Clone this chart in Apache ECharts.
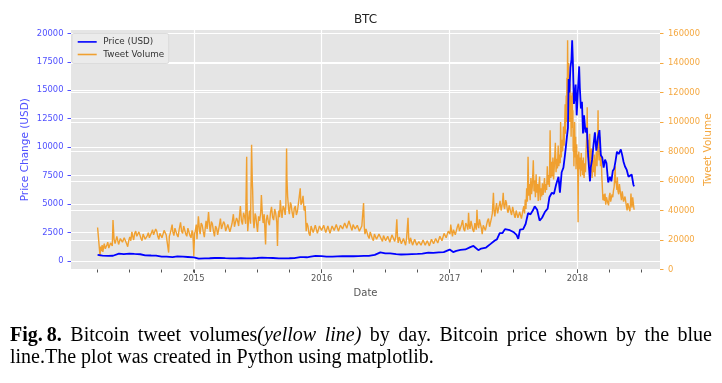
<!DOCTYPE html>
<html><head><meta charset="utf-8">
<script src="https://cdn.jsdelivr.net/npm/echarts@6/dist/echarts.min.js"></script>
<style>html,body{margin:0;padding:0;background:#fff}#c{width:722px;height:383px}</style>
</head><body><div id="c"></div><script>
// ---------- data ----------
const chartTitle = 'BTC';
const xTitle = 'Date';
const leftTitle = 'Price Change (USD)';
const rightTitle = 'Tweet Volume';
const seriesNames = ['Price (USD)', 'Tweet Volume'];
const xRange = ['2014-01-15', '2018-08-25'];
const yearTicks = [2015, 2016, 2017, 2018];
const quarterTickRange = ['2014-04-01', '2018-07-01'];
const priceRange = [-750, 20300];
const priceTicks = [0, 20000, 2500];
const volumeRange = [0, 162400];
const volumeTicks = [0, 160000, 20000];

const priceSeries = [
['2014-04-01',530],['2014-04-15',470],['2014-05-01',450],['2014-05-15',460],['2014-06-01',640],['2014-06-15',600],['2014-07-01',650],['2014-07-15',620],['2014-08-01',590],['2014-08-15',500],['2014-09-01',480],['2014-09-15',470],['2014-10-01',380],['2014-10-15',390],['2014-11-01',330],['2014-11-15',400],['2014-12-01',380],['2014-12-15',350],
['2015-01-01',315],['2015-01-15',210],['2015-02-01',230],['2015-02-15',240],['2015-03-01',260],['2015-03-15',280],['2015-04-01',245],['2015-04-15',225],['2015-05-01',235],['2015-05-15',240],['2015-06-01',225],['2015-06-15',235],['2015-07-01',260],['2015-07-15',290],['2015-08-01',280],['2015-08-15',260],['2015-09-01',230],['2015-09-15',230],['2015-10-01',238],['2015-10-15',255],['2015-11-01',330],['2015-11-04',490],['2015-11-10',330],['2015-11-20',325],['2015-12-01',380],['2015-12-15',440],
['2016-01-01',430],['2016-01-15',390],['2016-02-01',375],['2016-02-15',405],['2016-03-01',430],['2016-03-15',415],['2016-04-01',415],['2016-04-15',425],['2016-05-01',450],['2016-05-15',455],['2016-06-01',535],['2016-06-17',760],['2016-07-01',670],['2016-07-15',665],['2016-08-01',600],['2016-08-15',570],['2016-09-01',575],['2016-09-15',610],['2016-10-01',615],['2016-10-15',640],['2016-11-01',730],['2016-11-15',710],['2016-12-01',750],['2016-12-15',780],
['2017-01-01',1000],['2017-01-04',1130],['2017-01-11',780],['2017-01-20',890],['2017-02-01',980],['2017-02-15',1010],['2017-03-01',1220],['2017-03-10',1320],['2017-03-24',950],['2017-04-01',1090],['2017-04-15',1180],['2017-04-28',1500],['2017-05-10',1800],['2017-05-16',1900],['2017-05-24',2450],['2017-06-01',2450],['2017-06-08',2800],['2017-06-12',2950],['2017-06-22',2700],['2017-07-02',2550],['2017-07-11',2300],['2017-07-16',1950],['2017-07-21',2750],['2017-07-30',2800],['2017-08-06',3250],['2017-08-13',4200],['2017-08-20',4100],['2017-08-27',4450],['2017-09-01',4800],['2017-09-08',4500],['2017-09-15',3550],['2017-09-22',3800],['2017-09-30',4300],['2017-10-08',4600],['2017-10-13',5600],['2017-10-20',6000],['2017-10-26',5900],['2017-11-01',6700],['2017-11-08',7400],['2017-11-12',6000],['2017-11-17',7800],['2017-11-22',8200],['2017-11-26',9200],['2017-11-29',10000],['2017-12-02',10900],['2017-12-05',11700],['2017-12-07',16000],['2017-12-09',14800],['2017-12-12',17000],['2017-12-15',17700],['2017-12-17',19400],['2017-12-19',17600],['2017-12-22',13800],['2017-12-24',14300],['2017-12-27',15500],['2017-12-30',12800],
['2018-01-02',14700],['2018-01-06',17100],['2018-01-08',15200],['2018-01-11',13400],['2018-01-14',14000],['2018-01-17',11200],['2018-01-20',12800],['2018-01-24',11300],['2018-01-28',11700],['2018-02-01',9100],['2018-02-06',7000],['2018-02-08',8200],['2018-02-12',8900],['2018-02-16',10200],['2018-02-20',11300],['2018-02-24',9700],['2018-03-01',10900],['2018-03-05',11500],['2018-03-09',9300],['2018-03-13',9100],['2018-03-17',8200],['2018-03-21',8900],['2018-03-25',8600],['2018-03-30',6900],['2018-04-04',7400],['2018-04-08',7000],['2018-04-12',7900],['2018-04-16',8100],['2018-04-20',8800],['2018-04-24',9600],['2018-04-29',9400],['2018-05-05',9800],['2018-05-09',9300],['2018-05-13',8700],['2018-05-17',8300],['2018-05-22',8000],['2018-05-27',7400],['2018-06-01',7500],['2018-06-05',7600],['2018-06-07',7650],['2018-06-10',6700],['2018-06-12',6550]
];

const tweetSeries = [
['2014-04-01',28500],['2014-04-05',28000],['2014-04-08',9000],['2014-04-10',15500],['2014-04-12',12500],['2014-04-14',16500],['2014-04-16',12000],['2014-04-18',15000],['2014-04-20',17500],['2014-04-23',14000],['2014-04-25',13500],['2014-04-28',17000],['2014-04-30',18500],['2014-05-03',14500],['2014-05-05',15000],['2014-05-08',18000],['2014-05-10',19000],['2014-05-13',16000],['2014-05-15',33500],['2014-05-18',20500],['2014-05-21',17500],['2014-05-23',16500],['2014-05-26',22500],['2014-05-28',21500],['2014-05-31',17000],['2014-06-02',18000],['2014-06-05',21000],['2014-06-08',22000],['2014-06-11',18500],['2014-06-13',17500],['2014-06-16',21500],['2014-06-19',20500],['2014-06-23',17500],['2014-06-26',15500],['2014-06-29',19500],['2014-07-02',22000],['2014-07-05',19500],['2014-07-08',25500],['2014-07-11',22000],['2014-07-13',20000],['2014-07-16',24500],['2014-07-19',26000],['2014-07-22',22500],['2014-07-25',21500],['2014-07-28',25500],['2014-07-31',24500],['2014-08-03',21000],['2014-08-06',19500],['2014-08-09',24000],['2014-08-12',23500],['2014-08-15',20500],['2014-08-18',20000],['2014-08-21',23000],['2014-08-24',25000],['2014-08-27',21500],['2014-08-30',21000],['2014-09-02',25000],['2014-09-05',27000],['2014-09-08',23500],['2014-09-11',22500],['2014-09-14',27500],['2014-09-17',26000],['2014-09-20',22500],['2014-09-23',20500],['2014-09-26',24500],['2014-09-29',25500],['2014-10-02',21500],['2014-10-05',22000],['2014-10-08',26500],['2014-10-11',27500],['2014-10-14',23500],['2014-10-17',23000],['2014-10-21',11500],['2014-10-23',22500],['2014-10-25',24000],['2014-10-28',27000],['2014-10-31',30500],['2014-11-02',25500],['2014-11-05',23000],['2014-11-08',28000],['2014-11-11',27500],['2014-11-14',23500],['2014-11-17',22000],['2014-11-20',27000],['2014-11-24',32000],['2014-11-27',26000],['2014-11-30',24500],['2014-12-03',29500],['2014-12-06',28500],['2014-12-09',24000],['2014-12-12',22500],['2014-12-15',28000],['2014-12-18',27000],['2014-12-21',23000],['2014-12-24',21500],['2014-12-27',26500],['2014-12-29',25000],
['2015-01-01',9000],['2015-01-03',24000],['2015-01-05',26000],['2015-01-08',30500],['2015-01-10',20500],['2015-01-14',36000],['2015-01-17',27000],['2015-01-19',24000],['2015-01-22',31500],['2015-01-25',30000],['2015-01-28',25500],['2015-01-31',22000],['2015-02-03',29000],['2015-02-05',33000],['2015-02-08',27500],['2015-02-12',39000],['2015-02-15',29000],['2015-02-17',25500],['2015-02-20',32500],['2015-02-23',31000],['2015-02-26',26000],['2015-03-01',22500],['2015-03-04',29500],['2015-03-07',28000],['2015-03-10',23500],['2015-03-13',24000],['2015-03-15',30000],['2015-03-18',34500],['2015-03-21',27500],['2015-03-24',26500],['2015-03-27',32500],['2015-03-30',31000],['2015-04-02',26000],['2015-04-05',25000],['2015-04-08',30500],['2015-04-11',29500],['2015-04-14',25500],['2015-04-17',24500],['2015-04-20',31000],['2015-04-24',37500],['2015-04-27',29000],['2015-04-30',28500],['2015-05-03',35000],['2015-05-06',33000],['2015-05-09',29500],['2015-05-14',43000],['2015-05-17',33000],['2015-05-20',30500],['2015-05-23',38500],['2015-05-26',36000],['2015-05-29',31000],['2015-06-01',76500],['2015-06-02',45000],['2015-06-04',26000],['2015-06-07',35000],['2015-06-09',40000],['2015-06-12',31000],['2015-06-15',84500],['2015-06-17',60000],['2015-06-18',54000],['2015-06-20',33000],['2015-06-22',28000],['2015-06-25',38000],['2015-06-27',36500],['2015-06-30',29500],['2015-07-02',25500],['2015-07-05',36000],['2015-07-08',33000],['2015-07-11',38500],['2015-07-13',50500],['2015-07-16',36500],['2015-07-18',31500],['2015-07-21',37500],['2015-07-25',17000],['2015-07-27',33500],['2015-07-30',37000],['2015-08-02',32000],['2015-08-05',30000],['2015-08-08',38500],['2015-08-11',42500],['2015-08-14',35500],['2015-08-17',33500],['2015-08-20',41000],['2015-08-23',38000],['2015-08-26',32000],['2015-08-28',16000],['2015-08-30',36000],['2015-09-01',40000],['2015-09-03',35500],['2015-09-05',47000],['2015-09-08',39000],['2015-09-10',35000],['2015-09-13',43000],['2015-09-16',41500],['2015-09-19',37000],['2015-09-21',44000],['2015-09-23',82000],['2015-09-24',62000],['2015-09-26',49500],['2015-09-29',40500],['2015-10-01',37500],['2015-10-04',45500],['2015-10-06',44000],['2015-10-09',38500],['2015-10-12',35000],['2015-10-15',41500],['2015-10-18',43000],['2015-10-21',37000],['2015-10-24',39500],['2015-10-28',47000],['2015-11-01',55000],['2015-11-03',44000],['2015-11-06',45500],['2015-11-09',50000],['2015-11-12',40000],['2015-11-15',43000],['2015-11-18',26000],['2015-11-20',31500],['2015-11-23',29500],['2015-11-26',24500],['2015-11-29',23000],['2015-12-02',29500],['2015-12-05',28500],['2015-12-08',25000],['2015-12-11',24000],['2015-12-14',30000],['2015-12-17',29000],['2015-12-20',24500],['2015-12-23',25000],['2015-12-26',29500],['2015-12-29',30500],
['2016-01-01',26500],['2016-01-04',25500],['2016-01-07',30000],['2016-01-10',29000],['2016-01-13',25000],['2016-01-16',24000],['2016-01-19',29500],['2016-01-22',28500],['2016-01-25',24500],['2016-01-28',25000],['2016-01-31',29500],['2016-02-03',30000],['2016-02-06',26500],['2016-02-09',26000],['2016-02-12',30500],['2016-02-15',29500],['2016-02-18',26000],['2016-02-21',25500],['2016-02-24',30000],['2016-02-27',31000],['2016-03-01',27500],['2016-03-04',27000],['2016-03-07',31500],['2016-03-10',32500],['2016-03-13',28000],['2016-03-16',28500],['2016-03-19',33000],['2016-03-22',33500],['2016-03-25',28500],['2016-03-28',26500],['2016-03-31',30500],['2016-04-03',31500],['2016-04-06',27500],['2016-04-09',27000],['2016-04-12',30000],['2016-04-15',30500],['2016-04-18',26000],['2016-04-21',25500],['2016-04-25',29500],['2016-04-30',45000],['2016-05-02',29000],['2016-05-04',24000],['2016-05-07',27500],['2016-05-10',28000],['2016-05-13',22500],['2016-05-16',21000],['2016-05-19',25500],['2016-05-22',26000],['2016-05-25',21000],['2016-05-28',19500],['2016-05-31',24000],['2016-06-03',24500],['2016-06-06',20500],['2016-06-09',20000],['2016-06-13',24000],['2016-06-17',25000],['2016-06-20',20500],['2016-06-23',19000],['2016-06-26',23000],['2016-06-29',23500],['2016-07-02',19500],['2016-07-05',18500],['2016-07-08',22500],['2016-07-11',22000],['2016-07-14',18500],['2016-07-17',19500],['2016-07-20',23500],['2016-07-24',23000],['2016-07-28',19000],['2016-07-31',22500],['2016-08-03',34000],['2016-08-05',22000],['2016-08-07',18000],['2016-08-10',22000],['2016-08-13',21500],['2016-08-16',17500],['2016-08-19',16500],['2016-08-22',21000],['2016-08-25',20500],['2016-08-28',16500],['2016-08-31',21500],['2016-09-04',35000],['2016-09-06',21000],['2016-09-08',17500],['2016-09-11',21500],['2016-09-14',21000],['2016-09-17',16500],['2016-09-20',16000],['2016-09-23',20500],['2016-09-26',20000],['2016-09-29',16500],['2016-10-02',15500],['2016-10-05',19000],['2016-10-08',19500],['2016-10-11',16500],['2016-10-14',16000],['2016-10-17',20000],['2016-10-20',20500],['2016-10-23',16500],['2016-10-26',15500],['2016-10-29',19500],['2016-11-01',20000],['2016-11-04',16000],['2016-11-07',16500],['2016-11-10',20500],['2016-11-13',21000],['2016-11-16',17500],['2016-11-19',17000],['2016-11-22',21000],['2016-11-25',21500],['2016-11-28',18000],['2016-12-01',18000],['2016-12-04',22500],['2016-12-07',23000],['2016-12-10',19500],['2016-12-13',20500],['2016-12-16',24500],['2016-12-19',25500],['2016-12-22',21500],['2016-12-25',21000],['2016-12-28',26000],['2016-12-30',27000],
['2017-01-02',24000],['2017-01-04',30500],['2017-01-07',25500],['2017-01-09',22500],['2017-01-12',27000],['2017-01-14',28000],['2017-01-17',23500],['2017-01-20',23500],['2017-01-23',29000],['2017-01-26',31000],['2017-01-29',26000],['2017-02-01',25000],['2017-02-04',30500],['2017-02-07',33500],['2017-02-10',27500],['2017-02-13',26000],['2017-02-16',31500],['2017-02-19',30000],['2017-02-22',27000],['2017-02-24',38500],['2017-02-26',30000],['2017-02-28',27500],['2017-03-03',33000],['2017-03-05',32000],['2017-03-08',27000],['2017-03-11',25500],['2017-03-14',31500],['2017-03-16',30500],['2017-03-18',27000],['2017-03-20',40500],['2017-03-22',31000],['2017-03-25',28000],['2017-03-27',34000],['2017-03-30',33500],['2017-04-02',27500],['2017-04-04',24000],['2017-04-07',30000],['2017-04-10',31000],['2017-04-13',26500],['2017-04-16',27000],['2017-04-19',33000],['2017-04-22',34500],['2017-04-25',29000],['2017-04-28',29500],['2017-05-01',35500],['2017-05-03',38000],['2017-05-06',52000],['2017-05-08',40000],['2017-05-10',36000],['2017-05-13',42000],['2017-05-15',45000],['2017-05-18',38000],['2017-05-20',37500],['2017-05-23',44000],['2017-05-25',46500],['2017-05-28',40000],['2017-05-30',39000],['2017-06-01',45500],['2017-06-03',52000],['2017-06-05',43000],['2017-06-07',41000],['2017-06-10',47000],['2017-06-12',45500],['2017-06-15',40000],['2017-06-17',38500],['2017-06-20',43500],['2017-06-22',44000],['2017-06-25',38500],['2017-06-27',37000],['2017-06-30',42500],['2017-07-02',41500],['2017-07-05',36500],['2017-07-07',35000],['2017-07-10',40000],['2017-07-12',39500],['2017-07-15',35000],['2017-07-17',34000],['2017-07-20',39000],['2017-07-22',38500],['2017-07-25',34500],['2017-07-27',35500],['2017-07-30',41000],
['2017-08-01',43000],['2017-08-03',38000],['2017-08-05',47500],['2017-08-07',41000],['2017-08-09',55000],['2017-08-11',46000],['2017-08-13',76500],['2017-08-15',50000],['2017-08-17',58000],['2017-08-19',47000],['2017-08-21',62000],['2017-08-23',51000],['2017-08-25',56000],['2017-08-28',74000],['2017-08-30',53000],['2017-09-01',60500],['2017-09-03',49000],['2017-09-05',64500],['2017-09-07',52000],['2017-09-09',58000],['2017-09-11',46500],['2017-09-13',57000],['2017-09-15',63000],['2017-09-17',47000],['2017-09-19',55000],['2017-09-21',49500],['2017-09-23',58500],['2017-09-25',50500],['2017-09-27',56000],['2017-09-29',62000],['2017-10-01',52000],['2017-10-03',58000],['2017-10-05',54000],['2017-10-07',70000],['2017-10-09',57500],['2017-10-11',64000],['2017-10-13',56000],['2017-10-15',94500],['2017-10-17',62000],['2017-10-19',73000],['2017-10-21',63000],['2017-10-23',76000],['2017-10-25',61000],['2017-10-27',70000],['2017-10-30',86000],['2017-11-01',66000],['2017-11-03',75000],['2017-11-05',68500],['2017-11-07',84000],['2017-11-09',70000],['2017-11-11',78000],['2017-11-13',72000],['2017-11-14',100000],['2017-11-16',76000],['2017-11-18',88000],['2017-11-20',80000],['2017-11-22',97000],['2017-11-24',84000],['2017-11-26',101000],['2017-11-27',112000],['2017-11-28',92000],['2017-11-30',118000],['2017-12-01',100000],['2017-12-02',130000],['2017-12-03',112000],['2017-12-04',155500],['2017-12-05',125000],['2017-12-06',108000],['2017-12-07',140000],['2017-12-08',118000],['2017-12-09',132000],['2017-12-10',100000],['2017-12-11',126000],['2017-12-12',106000],['2017-12-13',118000],['2017-12-14',90000],['2017-12-15',112000],['2017-12-16',96000],['2017-12-17',120000],['2017-12-18',98000],['2017-12-19',108000],['2017-12-20',80000],['2017-12-21',94000],['2017-12-22',70000],['2017-12-23',88000],['2017-12-24',100000],['2017-12-26',76000],['2017-12-27',90000],['2017-12-28',68000],['2017-12-30',85000],['2017-12-31',72000],
['2018-01-01',78000],['2018-01-02',66000],['2018-01-03',32000],['2018-01-04',70000],['2018-01-05',80000],['2018-01-07',68000],['2018-01-08',76000],['2018-01-10',63000],['2018-01-12',79000],['2018-01-13',67000],['2018-01-15',74000],['2018-01-16',64000],['2018-01-18',76000],['2018-01-20',62000],['2018-01-22',72000],['2018-01-24',66000],['2018-01-26',82000],['2018-01-28',92000],['2018-01-29',110000],['2018-01-30',84000],['2018-02-01',76000],['2018-02-02',88000],['2018-02-04',70000],['2018-02-05',92000],['2018-02-06',80000],['2018-02-08',66000],['2018-02-10',82000],['2018-02-12',62000],['2018-02-14',74000],['2018-02-16',66000],['2018-02-18',78000],['2018-02-20',63000],['2018-02-22',72000],['2018-02-24',80000],['2018-02-26',70000],['2018-02-28',86000],['2018-03-01',108000],['2018-03-02',82000],['2018-03-04',74000],['2018-03-06',90000],['2018-03-08',70000],['2018-03-10',78000],['2018-03-12',62000],['2018-03-14',52000],['2018-03-15',47000],['2018-03-17',51000],['2018-03-19',46500],['2018-03-21',51500],['2018-03-23',44000],['2018-03-25',49000],['2018-03-27',50000],['2018-03-29',45000],['2018-03-31',43500],['2018-04-02',49500],['2018-04-04',52000],['2018-04-06',46000],['2018-04-08',45500],['2018-04-10',51000],['2018-04-12',49000],['2018-04-14',53500],['2018-04-16',56000],['2018-04-19',70000],['2018-04-20',60000],['2018-04-22',58000],['2018-04-24',54000],['2018-04-25',62500],['2018-04-27',53000],['2018-04-29',51000],['2018-05-01',58000],['2018-05-03',57000],['2018-05-05',50000],['2018-05-07',47000],['2018-05-09',53000],['2018-05-11',52500],['2018-05-13',46000],['2018-05-15',45000],['2018-05-17',49500],['2018-05-19',48500],['2018-05-21',43000],['2018-05-23',40000],['2018-05-25',45000],['2018-05-27',46000],['2018-05-29',41000],['2018-05-31',39500],['2018-06-02',46000],['2018-06-03',51500],['2018-06-05',44000],['2018-06-06',42000],['2018-06-08',49000],['2018-06-09',48000],['2018-06-11',42500],['2018-06-12',40500]
];

const captionLine1 = [
  [['Fig.\u20098.', 'b']], [['Bitcoin', 'n']], [['tweet', 'n']], [['volumes', 'n'], ['(yellow', 'i']], [['line)', 'i']],
  [['by', 'n']], [['day.', 'n']], [['Bitcoin', 'n']], [['price', 'n']], [['shown', 'n']], [['by', 'n']], [['the', 'n']], [['blue', 'n']]
];
const captionLine2 = 'line.The plot was created in Python using matplotlib.';

// ---------- layout / style ----------
const FONT = '"DejaVu Sans", sans-serif';
const BLUE = '#0000ff', ORANGE = '#f0a030';
const BLUE_TXT = '#5050ff', ORANGE_TXT = '#f5a840', GRAY_TXT = '#555555';
const G = {left: 71, top: 30, width: 589, height: 239.5};

const ts = s => { const [y, m, d] = s.split('-').map(Number); return new Date(y, m - 1, d).getTime(); };
const X0 = ts(xRange[0]), X1 = ts(xRange[1]);
const px = t => G.left + (t - X0) / (X1 - X0) * G.width;
const pyP = v => G.top + (priceRange[1] - v) / (priceRange[1] - priceRange[0]) * G.height;
const pyV = v => G.top + (volumeRange[1] - v) / (volumeRange[1] - volumeRange[0]) * G.height;

const yr0 = px(ts(yearTicks[0] + '-01-01')), yr1 = px(ts(yearTicks[yearTicks.length - 1] + '-01-01'));
const q0 = px(ts(quarterTickRange[0])), q1 = px(ts(quarterTickRange[1]));
const nQuarters = 17;

const grids = [
  {left: G.left, top: G.top, width: G.width, height: G.height, show: true, backgroundColor: '#e5e5e5', borderWidth: 0, z: 0},
  {left: yr0, width: yr1 - yr0, top: G.top, height: G.height},
  {left: q0, width: q1 - q0, top: G.top, height: G.height},
  {left: G.left, width: G.width, top: pyP(priceTicks[1]), height: pyP(priceTicks[0]) - pyP(priceTicks[1])},
  {left: G.left, width: G.width, top: pyV(volumeTicks[1]), height: pyV(volumeTicks[0]) - pyV(volumeTicks[1])}
].map(g => Object.assign({outerBoundsMode: 'none', containLabel: false}, g));

const splitWhite = {show: true, lineStyle: {color: '#ffffff', width: 1.2}};
const noLine = {show: false, onZero: false};
const fmt = v => String(v);

const xAxes = [
  {gridIndex: 0, type: 'time', min: X0, max: X1, show: false, axisLine: noLine},
  {gridIndex: 1, type: 'value', position: 'bottom', min: yearTicks[0], max: yearTicks[yearTicks.length - 1], interval: 1, z: 1,
   axisLine: noLine, axisTick: {show: true, length: 3.5, lineStyle: {color: GRAY_TXT}},
   axisLabel: {formatter: fmt, color: GRAY_TXT, fontSize: 8.4, fontFamily: FONT, margin: 5.5}, splitLine: splitWhite},
  {gridIndex: 2, type: 'value', position: 'bottom', min: 0, max: nQuarters, interval: 1, z: 1,
   axisLine: noLine, axisTick: {show: true, length: 3, lineStyle: {color: GRAY_TXT}},
   axisLabel: {show: false}, splitLine: {show: false}},
  {gridIndex: 3, type: 'value', show: false, axisLine: noLine},
  {gridIndex: 4, type: 'value', show: false, axisLine: noLine}
];
const yAxes = [
  {gridIndex: 0, type: 'value', min: priceRange[0], max: priceRange[1], show: false, axisLine: noLine},
  {gridIndex: 0, type: 'value', min: volumeRange[0], max: volumeRange[1], show: false, axisLine: noLine},
  {gridIndex: 1, type: 'value', show: false, axisLine: noLine},
  {gridIndex: 2, type: 'value', show: false, axisLine: noLine},
  {gridIndex: 3, type: 'value', position: 'left', min: priceTicks[0], max: priceTicks[1], interval: priceTicks[2], z: 1,
   axisLine: noLine, axisTick: {show: true, length: 3.5, lineStyle: {color: BLUE_TXT}},
   axisLabel: {formatter: fmt, color: BLUE_TXT, fontSize: 8.4, fontFamily: FONT, margin: 7.5}, splitLine: splitWhite},
  {gridIndex: 4, type: 'value', position: 'right', min: volumeTicks[0], max: volumeTicks[1], interval: volumeTicks[2], z: 1,
   axisLine: noLine, axisTick: {show: true, length: 3.5, lineStyle: {color: ORANGE_TXT}},
   axisLabel: {formatter: fmt, color: ORANGE_TXT, fontSize: 8.4, fontFamily: FONT, margin: 8}, splitLine: splitWhite}
];

// ---------- caption (justified) ----------
const cv = document.createElement('canvas').getContext('2d');
const CAP_SIZE = 20, CAP_FAM = '"Liberation Serif", serif';
const capStyle = k => k === 'b' ? {fontWeight: 'bold', fontStyle: 'normal'} : k === 'i' ? {fontWeight: 'normal', fontStyle: 'italic'} : {fontWeight: 'normal', fontStyle: 'normal'};
const capFont = k => { const s = capStyle(k); return `${s.fontStyle} ${s.fontWeight} ${CAP_SIZE}px ${CAP_FAM}`; };
const segW = (t, k) => { cv.font = capFont(k); return cv.measureText(t).width; };
const CAP_L = 10, CAP_R = 712, CAP_Y1 = 336, CAP_Y2 = 358;
const wordW = captionLine1.map(w => w.reduce((a, s) => a + segW(s[0], s[1]), 0));
const gap = (CAP_R - CAP_L - wordW.reduce((a, b) => a + b, 0)) / (captionLine1.length - 1);
const capEls = [];
let cx = CAP_L;
captionLine1.forEach((w, i) => {
  let sx = cx;
  w.forEach(s => {
    capEls.push({type: 'text', x: sx, y: CAP_Y1, style: Object.assign({text: s[0], fill: '#000', fontSize: CAP_SIZE, fontFamily: CAP_FAM, align: 'left', verticalAlign: 'middle'}, capStyle(s[1]))});
    sx += segW(s[0], s[1]);
  });
  cx += wordW[i] + gap;
});
capEls.push({type: 'text', x: CAP_L, y: CAP_Y2, style: {text: captionLine2, fill: '#000', fontSize: CAP_SIZE, fontFamily: CAP_FAM, align: 'left', verticalAlign: 'middle'}});

const textEls = [
  {type: 'text', x: G.left + G.width / 2, y: 20, style: {text: chartTitle, fill: '#222', fontSize: 12, fontFamily: FONT, align: 'center', verticalAlign: 'middle'}},
  {type: 'text', x: G.left + G.width / 2, y: 293, style: {text: xTitle, fill: GRAY_TXT, fontSize: 10, fontFamily: FONT, align: 'center', verticalAlign: 'middle'}},
  {type: 'text', x: 25, y: G.top + G.height / 2, rotation: Math.PI / 2, style: {text: leftTitle, fill: BLUE_TXT, fontSize: 10.5, fontFamily: FONT, align: 'center', verticalAlign: 'middle'}},
  {type: 'text', x: 708, y: G.top + G.height / 2, rotation: Math.PI / 2, style: {text: rightTitle, fill: ORANGE_TXT, fontSize: 10.5, fontFamily: FONT, align: 'center', verticalAlign: 'middle'}}
];

const chart = echarts.init(document.getElementById('c'), null, {renderer: 'canvas'});
chart.setOption({
  animation: false,
  backgroundColor: '#ffffff',
  grid: grids,
  xAxis: xAxes,
  yAxis: yAxes,
  legend: {
    data: seriesNames, orient: 'vertical', left: 72, top: 33.5, selectedMode: false,
    icon: 'rect', itemWidth: 19, itemHeight: 1.6, itemGap: 0,
    textStyle: {fontSize: 8.8, color: '#333', fontFamily: FONT, lineHeight: 12.6, padding: [0, 0, 0, 1.6]},
    backgroundColor: '#ebebeb', borderColor: '#d6d6d6', borderWidth: 0.8, borderRadius: 2,
    padding: [2.1, 4.5, 2.7, 5.7]
  },
  series: [
    {name: seriesNames[1], type: 'line', xAxisIndex: 0, yAxisIndex: 1, data: tweetSeries.map(d => [ts(d[0]), d[1]]),
     symbol: 'none', showSymbol: false, z: 3, lineStyle: {color: ORANGE, width: 1.4}, itemStyle: {color: ORANGE}},
    {name: seriesNames[0], type: 'line', xAxisIndex: 0, yAxisIndex: 0, data: priceSeries.map(d => [ts(d[0]), d[1]]),
     symbol: 'none', showSymbol: false, z: 4, lineStyle: {color: BLUE, width: 1.8}, itemStyle: {color: BLUE}}
  ],
  graphic: textEls.concat(capEls)
});
</script></body></html>
